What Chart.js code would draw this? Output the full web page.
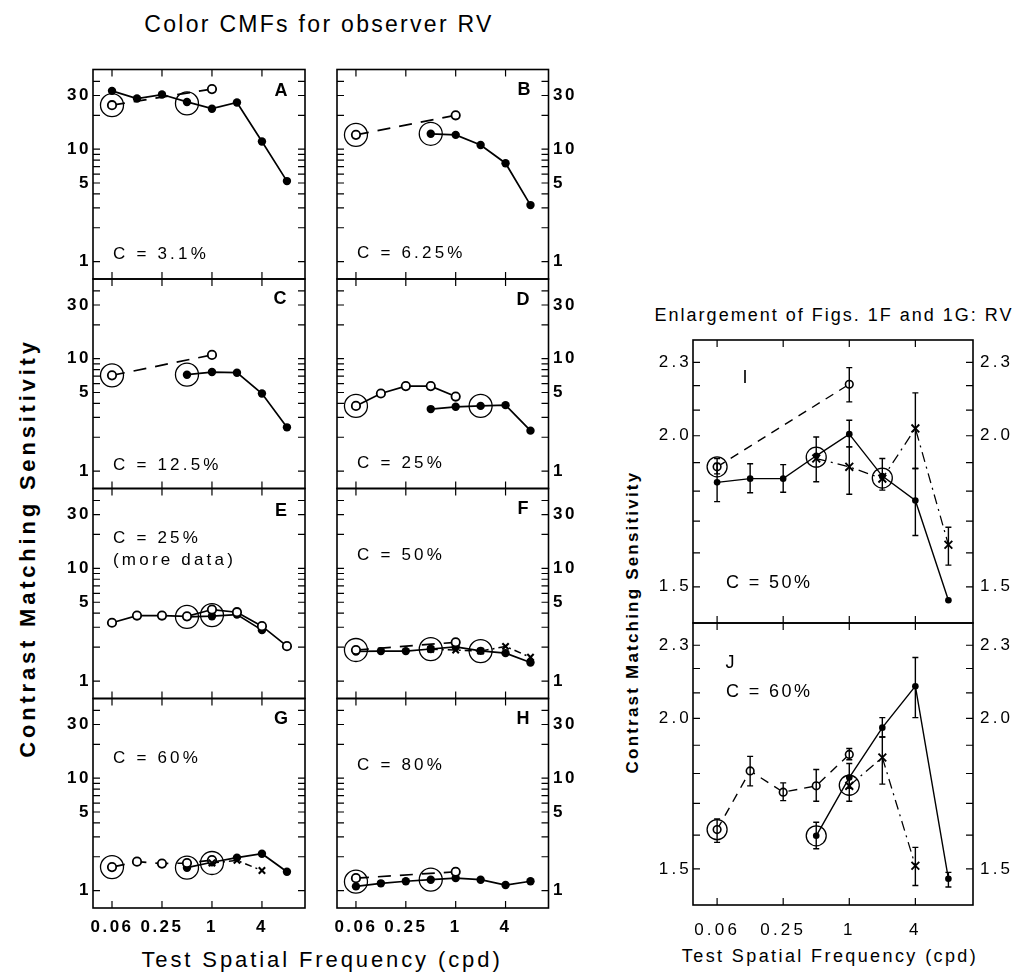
<!DOCTYPE html>
<html>
<head>
<meta charset="utf-8">
<title>Color CMFs for observer RV</title>
<script src="https://cdn.jsdelivr.net/npm/chart.js@4.4.1/dist/chart.umd.min.js"></script>
<style>
html,body{margin:0;padding:0;background:#fff;}
#wrap{position:relative;width:1020px;height:980px;overflow:hidden;background:#fff;font-family:'Liberation Sans',Arial,Helvetica,sans-serif;color:#000;}
#wrap canvas{position:absolute;left:0;top:0;}
.t{position:absolute;white-space:nowrap;line-height:1;transform:translate(-50%,-50%);}
.rot{transform:translate(-50%,-50%) rotate(-90deg);}
</style>
</head>
<body>
<div id="wrap">
  <div class="t" style="left:319px;top:24px;font-size:23px;letter-spacing:2.3px;">Color CMFs for observer RV</div>
  <div class="t rot" style="left:28px;top:548px;font-size:22px;font-weight:bold;letter-spacing:3.8px;">Contrast Matching Sensitivity</div>
  <div class="t" style="left:322px;top:960px;font-size:22px;letter-spacing:2.9px;">Test Spatial Frequency (cpd)</div>
  <div class="t" style="left:834px;top:315px;font-size:18px;letter-spacing:2px;">Enlargement of Figs. 1F and 1G: RV</div>
  <div class="t rot" style="left:632px;top:622px;font-size:17px;font-weight:bold;letter-spacing:2.2px;">Contrast Matching Sensitivity</div>
  <div class="t" style="left:830px;top:956px;font-size:18px;letter-spacing:2.4px;">Test Spatial Frequency (cpd)</div>
</div>
<script>
// ---------------- data ----------------
const FREQ = [0.0625, 0.125, 0.25, 0.5, 1, 2, 4, 8];
const X_TICKS = [0.0625, 0.25, 1, 4];
const X_TICK_LABELS = ['0.06', '0.25', '1', '4'];
const Y_TICKS = [1, 5, 10, 30];
const Y_TICK_LABELS = ['1', '5', '10', '30'];
const Y_MINOR = [1, 2, 3, 4, 5, 6, 7, 8, 9, 10, 20, 30, 40];
const E_TICKS = [1.5, 2.0, 2.3];
const E_TICK_LABELS = ['1.5', '2.0', '2.3'];
const E_MINOR = [1.5, 1.6, 1.7, 1.8, 1.9, 2.0, 2.1, 2.2, 2.3];
const PANEL_LETTERS = ['A', 'B', 'C', 'D', 'E', 'F', 'G', 'H', 'I', 'J'];
const CONTRAST_LABELS = ['C = 3.1%', 'C = 6.25%', 'C = 12.5%', 'C = 25%', 'C = 25%', 'C = 50%', 'C = 60%', 'C = 80%', 'C = 50%', 'C = 60%'];
const EXTRA_NOTE = '(more data)';

const A_FILLED = [33, 28.2, 30.6, 26.3, 22.9, 26.0, 11.7, 5.2];
const A_OPEN   = [24.6, null, null, null, 34.2, null, null, null];
const A_REF    = [24.6, null, null, 25.5, null, null, null, null];

const B_FILLED = [null, null, null, 13.7, 13.4, 10.9, 7.5, 3.18];
const B_OPEN   = [13.4, null, null, null, 20.0, null, null, null];
const B_REF    = [13.4, null, null, 13.7, null, null, null, null];

const C_FILLED = [null, null, null, 7.2, 7.6, 7.5, 4.9, 2.45];
const C_OPEN   = [7.1, null, null, null, 10.8, null, null, null];
const C_REF    = [7.1, null, null, 7.2, null, null, null, null];

const D_OPEN   = [3.8, 4.9, 5.7, 5.7, 4.6, null, null, null];
const D_FILLED = [null, null, null, 3.56, 3.73, 3.8, 3.86, 2.29];
const D_REF    = [3.8, null, null, null, null, 3.8, null, null];

const E_OPEN   = [3.29, 3.81, 3.81, 3.75, 4.31, 4.08, 3.07, 2.04];
const E_FILLED = [null, null, null, 3.71, 3.76, 3.89, 2.83, null];
const E_REF    = [null, null, null, 3.71, 3.85, null, null, null];

// C = 50% (panels F and I)
const I_FILLED    = [1.83, 1.843, 1.843, 1.925, 2.006, 1.852, 1.768, 1.462];
const I_FILLED_LO = [1.764, 1.794, 1.796, 1.832, 1.958, 1.803, 1.654, null];
const I_FILLED_HI = [1.897, 1.896, 1.893, 1.995, 2.06, 1.915, 1.879, null];
const I_OPEN      = [1.885, null, null, null, 2.206, null, null, null];
const I_OPEN_LO   = [1.86, null, null, null, 2.133, null, null, null];
const I_OPEN_HI   = [1.915, null, null, null, 2.277, null, null, null];
const I_CROSS     = [null, null, null, 1.915, 1.885, 1.843, 2.028, 1.625];
const I_CROSS_LO  = [null, null, null, null, 1.789, null, 1.879, 1.563];
const I_CROSS_HI  = [null, null, null, null, 1.958, null, 2.17, 1.68];
const I_REF       = [1.885, null, null, 1.92, null, 1.845, null, null];

// C = 60% (panels G and J)
const J_OPEN      = [1.617, 1.809, 1.737, 1.758, 1.867, null, null, null];
const J_OPEN_LO   = [1.578, 1.758, 1.709, 1.707, 1.848, null, null, null];
const J_OPEN_HI   = [1.65, 1.86, 1.768, 1.814, 1.888, null, null, null];
const J_FILLED    = [null, null, null, 1.598, 1.786, 1.965, 2.127, 1.472];
const J_FILLED_LO = [null, null, null, 1.559, 1.75, 1.93, 2.003, 1.449];
const J_FILLED_HI = [null, null, null, 1.64, 1.835, 2.003, 2.247, 1.49];
const J_CROSS     = [null, null, null, null, 1.758, 1.856, 1.509, null];
const J_CROSS_LO  = [null, null, null, null, 1.707, 1.764, 1.453, null];
const J_CROSS_HI  = [null, null, null, null, 1.79, 1.93, 1.563, null];
const J_REF       = [1.617, null, null, 1.598, 1.76, null, null, null];

const H_FILLED = [1.09, 1.16, 1.21, 1.25, 1.29, 1.25, 1.12, 1.21];
const H_OPEN   = [1.29, null, null, null, 1.47, null, null, null];
const H_REF    = [1.2, null, null, 1.25, null, null, null, null];

// ---------------- layout / style ----------------
const W = 1020, H = 980;
const FONT = "'Liberation Sans', Arial, Helvetica, sans-serif";
const GRID_X = [0.0369, 13.2], GRID_Y = [0.715, 51.1];
const ENL_X = [0.0377, 13.4], ENL_Y = [1.40, 2.40];
const SMALL = {lw: 1.7, pr: 4.2, or: 4.2, ow: 1.8, xr: 4.5, rr: 11.5, dash: [13, 9], dashdot: [7, 4, 2, 4], errW: 1.3, cap: 3};
const BIG = {lw: 1.4, pr: 3.3, or: 3.8, ow: 1.6, xr: 5.5, rr: 10, dash: [9, 7], dashdot: [10, 5, 2, 5], errW: 1.4, cap: 3};
const wrap = document.getElementById('wrap');

function pts(vals, lo, hi) {
  const out = [];
  vals.forEach((v, i) => {
    if (v == null) return;
    out.push({x: FREQ[i], y: v, lo: lo ? lo[i] : null, hi: hi ? hi[i] : null});
  });
  return out;
}

function mkDatasets(list, st) {
  return list.map(s => {
    const base = {data: pts(s.v, s.lo, s.hi), borderColor: '#000', fill: false, tension: 0, pointHoverRadius: 0};
    if (s.k === 'filled') return Object.assign(base, {borderWidth: st.lw, pointRadius: st.pr, pointBackgroundColor: '#000', pointBorderColor: '#000', pointBorderWidth: 0, order: 3});
    if (s.k === 'open') return Object.assign(base, {borderWidth: st.lw, borderDash: s.solid ? [] : st.dash, pointRadius: st.or, pointBackgroundColor: '#fff', pointBorderColor: '#000', pointBorderWidth: st.ow, order: 2});
    if (s.k === 'cross') return Object.assign(base, {borderWidth: st.lw * 0.9, borderDash: st.dashdot, pointStyle: 'crossRot', pointRadius: st.xr, pointBorderColor: '#000', pointBackgroundColor: '#000', pointBorderWidth: st.ow + 0.3, order: 1});
    return Object.assign(base, {showLine: false, pointRadius: st.rr, pointBackgroundColor: 'rgba(0,0,0,0)', pointBorderColor: '#000', pointBorderWidth: 1.3, order: 0});
  });
}

function makeDecor(P) {
  const enl = P.enl, st = enl ? BIG : SMALL;
  const minor = enl ? E_MINOR : Y_MINOR;
  return {
    id: 'decor' + P.idx,
    beforeDraw(chart) { chart.ctx.letterSpacing = (enl ? 3.2 : 2.5) + 'px'; },
    afterDatasetsDraw(chart) {
      const ctx = chart.ctx, ys = chart.scales.y;
      ctx.save();
      ctx.strokeStyle = '#000'; ctx.lineWidth = st.errW; ctx.setLineDash([]);
      chart.data.datasets.forEach((ds, i) => {
        const meta = chart.getDatasetMeta(i);
        ds.data.forEach((d, j) => {
          if (d.lo == null || d.hi == null) return;
          const x = meta.data[j].x;
          const y1 = ys.getPixelForValue(d.lo), y2 = ys.getPixelForValue(d.hi);
          ctx.beginPath();
          ctx.moveTo(x, y1); ctx.lineTo(x, y2);
          ctx.moveTo(x - st.cap, y1); ctx.lineTo(x + st.cap, y1);
          ctx.moveTo(x - st.cap, y2); ctx.lineTo(x + st.cap, y2);
          ctx.stroke();
        });
      });
      ctx.restore();
    },
    afterDraw(chart) {
      const ctx = chart.ctx, a = chart.chartArea, xs = chart.scales.x, ys = chart.scales.y;
      const TL = 7;
      ctx.save();
      ctx.setLineDash([]);
      ctx.strokeStyle = '#000';
      ctx.lineWidth = 1.6;
      ctx.strokeRect(a.left, a.top, a.right - a.left, a.bottom - a.top);
      ctx.lineWidth = 1.2;
      ctx.beginPath();
      minor.forEach(v => {
        const y = ys.getPixelForValue(v);
        if (y < a.top || y > a.bottom) return;
        ctx.moveTo(a.left, y); ctx.lineTo(a.left + TL, y);
        ctx.moveTo(a.right, y); ctx.lineTo(a.right - TL, y);
      });
      X_TICKS.forEach(v => {
        const x = xs.getPixelForValue(v);
        ctx.moveTo(x, a.top); ctx.lineTo(x, a.top + TL);
        ctx.moveTo(x, a.bottom); ctx.lineTo(x, a.bottom - TL);
      });
      ctx.stroke();
      ctx.fillStyle = '#000';
      ctx.textBaseline = 'middle';
      P.texts.forEach(t => {
        ctx.font = (t.bold ? 'bold ' : '') + t.size + 'px ' + FONT;
        ctx.letterSpacing = (t.ls || 0) + 'px';
        ctx.textAlign = t.align || 'left';
        ctx.fillText(t.text, a.left + t.dx, a.top + t.dy);
      });
      ctx.restore();
    }
  };
}

function makePanel(P) {
  const cv = document.createElement('canvas');
  cv.width = W; cv.height = H;
  cv.style.width = W + 'px'; cv.style.height = H + 'px';
  wrap.appendChild(cv);
  const enl = P.enl, st = enl ? BIG : SMALL;
  const yR = enl ? ENL_Y : GRID_Y, xR = enl ? ENL_X : GRID_X;
  const yT = enl ? E_TICKS : Y_TICKS, yTL = enl ? E_TICK_LABELS : Y_TICK_LABELS;
  const tickFont = {family: FONT, size: 17, weight: enl ? 'normal' : 'bold'};
  const AXW = 46, AXH = 34;
  const yAxis = (pos, pad) => ({
    type: 'logarithmic', axis: 'y', position: pos, min: yR[0], max: yR[1], display: true,
    afterBuildTicks: s => { s.ticks = yT.map(v => ({value: v})); },
    afterFit: s => { s.width = AXW; },
    grid: {display: false, drawTicks: false, drawOnChartArea: false},
    border: {display: false},
    ticks: {autoSkip: false, padding: pad, font: tickFont, color: '#000', callback: (v, i) => yTL[i]}
  });
  const scales = {
    x: {
      type: 'logarithmic', axis: 'x', position: 'bottom', min: xR[0], max: xR[1], display: !!P.xLabels,
      afterBuildTicks: s => { s.ticks = X_TICKS.map(v => ({value: v})); },
      afterFit: s => { if (P.xLabels) s.height = AXH; },
      grid: {display: false, drawTicks: false, drawOnChartArea: false},
      border: {display: false},
      ticks: {autoSkip: false, maxRotation: 0, minRotation: 0, padding: P.xPad || 9, font: {family: FONT, size: 17, weight: enl ? 'normal' : 'bold'}, color: '#000', callback: (v, i) => X_TICK_LABELS[i]}
    }
  };
  if (P.yLeft) scales.y = yAxis('left', enl ? 1 : 2);
  if (P.yRight) scales[P.yLeft ? 'y2' : 'y'] = yAxis('right', enl ? 7 : 4.5);
  const b = P.box;
  const padding = {
    left: b.l - (P.yLeft ? AXW : 0),
    right: W - b.r - (P.yRight ? AXW : 0),
    top: b.t,
    bottom: H - b.b - (P.xLabels ? AXH : 0)
  };
  new Chart(cv, {
    type: 'line',
    data: {datasets: mkDatasets(P.series, st)},
    options: {
      responsive: false, maintainAspectRatio: false, animation: false, devicePixelRatio: 1,
      events: [],
      layout: {padding},
      scales,
      plugins: {legend: {display: false}, tooltip: {enabled: false}}
    },
    plugins: [makeDecor(P)]
  });
}

function gridTexts(i, letterDx, letterDy, noteDy, extra) {
  const t = [
    {text: PANEL_LETTERS[i], dx: letterDx, dy: letterDy, size: 18, bold: true, align: 'center'},
    {text: CONTRAST_LABELS[i], dx: 20, dy: noteDy, size: 17, ls: 3.2}
  ];
  if (extra) t.push({text: EXTRA_NOTE, dx: 20, dy: extra, size: 17, ls: 3.2});
  return t;
}

const panels = [
  {idx: 0, box: {l: 93, t: 69.5, r: 305, b: 279}, yLeft: true,
   series: [{k: 'filled', v: A_FILLED}, {k: 'open', v: A_OPEN}, {k: 'ref', v: A_REF}],
   texts: gridTexts(0, 188, 22, 184.5)},
  {idx: 1, box: {l: 337, t: 69.5, r: 548.5, b: 279}, yRight: true,
   series: [{k: 'filled', v: B_FILLED}, {k: 'open', v: B_OPEN}, {k: 'ref', v: B_REF}],
   texts: gridTexts(1, 187, 20.5, 183.5)},
  {idx: 2, box: {l: 93, t: 279, r: 305, b: 488.5}, yLeft: true,
   series: [{k: 'filled', v: C_FILLED}, {k: 'open', v: C_OPEN}, {k: 'ref', v: C_REF}],
   texts: gridTexts(2, 187, 20, 186)},
  {idx: 3, box: {l: 337, t: 279, r: 548.5, b: 488.5}, yRight: true,
   series: [{k: 'filled', v: D_FILLED}, {k: 'open', v: D_OPEN, solid: true}, {k: 'ref', v: D_REF}],
   texts: gridTexts(3, 186, 21, 184)},
  {idx: 4, box: {l: 93, t: 488.5, r: 305, b: 698.5}, yLeft: true,
   series: [{k: 'filled', v: E_FILLED}, {k: 'open', v: E_OPEN, solid: true}, {k: 'ref', v: E_REF}],
   texts: gridTexts(4, 188, 22.5, 49.5, 71.5)},
  {idx: 5, box: {l: 337, t: 488.5, r: 548.5, b: 698.5}, yRight: true,
   series: [{k: 'filled', v: I_FILLED}, {k: 'open', v: I_OPEN}, {k: 'cross', v: I_CROSS}, {k: 'ref', v: I_REF}],
   texts: gridTexts(5, 186, 20.5, 66.5)},
  {idx: 6, box: {l: 93, t: 698.5, r: 305, b: 908}, yLeft: true, xLabels: true, xPad: 9,
   series: [{k: 'filled', v: J_FILLED}, {k: 'open', v: J_OPEN}, {k: 'cross', v: J_CROSS}, {k: 'ref', v: J_REF}],
   texts: gridTexts(6, 188, 20.5, 59.5)},
  {idx: 7, box: {l: 337, t: 698.5, r: 548.5, b: 908}, yRight: true, xLabels: true, xPad: 9,
   series: [{k: 'filled', v: H_FILLED}, {k: 'open', v: H_OPEN}, {k: 'ref', v: H_REF}],
   texts: gridTexts(7, 186, 20.5, 66.5)},
  {idx: 8, enl: true, box: {l: 693, t: 340, r: 973, b: 623}, yLeft: true, yRight: true,
   series: [{k: 'filled', v: I_FILLED, lo: I_FILLED_LO, hi: I_FILLED_HI},
            {k: 'open', v: I_OPEN, lo: I_OPEN_LO, hi: I_OPEN_HI},
            {k: 'cross', v: I_CROSS, lo: I_CROSS_LO, hi: I_CROSS_HI},
            {k: 'ref', v: I_REF}],
   texts: [{text: PANEL_LETTERS[8], dx: 52, dy: 38, size: 18, align: 'center'},
           {text: CONTRAST_LABELS[8], dx: 33, dy: 243, size: 18, ls: 2.4}]},
  {idx: 9, enl: true, box: {l: 693, t: 623, r: 973, b: 905}, yLeft: true, yRight: true, xLabels: true, xPad: 15,
   series: [{k: 'filled', v: J_FILLED, lo: J_FILLED_LO, hi: J_FILLED_HI},
            {k: 'open', v: J_OPEN, lo: J_OPEN_LO, hi: J_OPEN_HI},
            {k: 'cross', v: J_CROSS, lo: J_CROSS_LO, hi: J_CROSS_HI},
            {k: 'ref', v: J_REF}],
   texts: [{text: PANEL_LETTERS[9], dx: 37, dy: 40, size: 18, align: 'center'},
           {text: CONTRAST_LABELS[9], dx: 33, dy: 69, size: 18, ls: 2.4}]}
];

panels.forEach(makePanel);
</script>
</body>
</html>
